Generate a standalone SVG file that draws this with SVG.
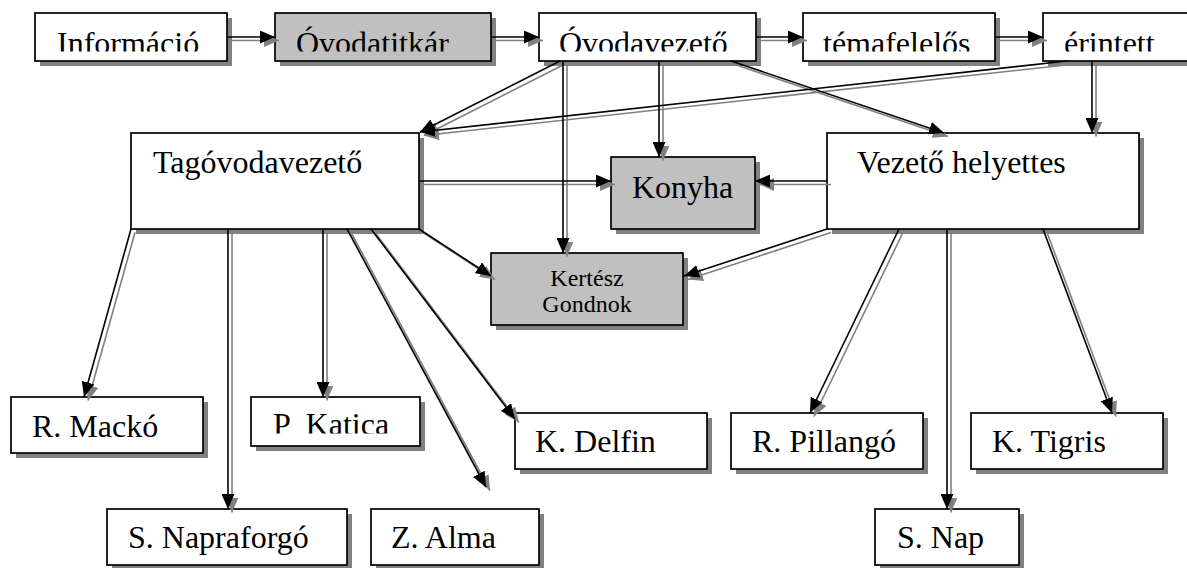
<svg xmlns="http://www.w3.org/2000/svg" xmlns:xlink="http://www.w3.org/1999/xlink" width="1187" height="568" viewBox="0 0 1187 568">
<style>
.box{fill:#ffffff;stroke:#000000;stroke-width:1.7}
.gbox{fill:#c0c0c0;stroke:#000000;stroke-width:1.7}
.shadow{fill:#808080;stroke:none}
.t{font-family:"Liberation Serif","Times New Roman",serif;font-size:32px;fill:#000000}
.ts{font-family:"Liberation Serif","Times New Roman",serif;font-size:24px;fill:#000000}
.cs{fill:none;stroke:#808080;stroke-width:1.6;marker-end:url(#ag)}
.cm{fill:none;stroke:#000000;stroke-width:1.6;marker-end:url(#ab)}
</style>
<defs>
<marker id="ab" markerUnits="userSpaceOnUse" viewBox="0 0 15 13" refX="15" refY="6.5" markerWidth="15" markerHeight="13" orient="auto">
<path d="M0,0 L15,6.5 L0,13 Z" fill="#000000"/>
</marker>
<marker id="ag" markerUnits="userSpaceOnUse" viewBox="0 0 15 13" refX="15" refY="6.5" markerWidth="15" markerHeight="13" orient="auto">
<path d="M0,0 L15,6.5 L0,13 Z" fill="#808080"/>
</marker>
<clipPath id="clipTop" clipPathUnits="userSpaceOnUse"><rect x="0" y="0" width="1187" height="51.5"/></clipPath>
<clipPath id="clipKat" clipPathUnits="userSpaceOnUse"><rect x="0" y="380" width="1187" height="53.5"/></clipPath>
<path id="c1" d="M227,37 L275,37"/>
<path id="c2" d="M491,37 L539,37"/>
<path id="c3" d="M756,37 L803,37"/>
<path id="c4" d="M995,37 L1043,37"/>
<path id="c5" d="M560,61 L420,132"/>
<path id="c6" d="M1067,61 L420,132"/>
<path id="c7" d="M659,61 L659,157"/>
<path id="c8" d="M563,61 L563,253"/>
<path id="c9" d="M731,61 L944,133"/>
<path id="c10" d="M1092,61 L1092,133"/>
<path id="c11" d="M419,181 L611,181"/>
<path id="c12" d="M827,181 L755,181"/>
<path id="c13" d="M419,229 L491,276"/>
<path id="c14" d="M827,229 L684,276"/>
<path id="c15" d="M131,229 L84,397"/>
<path id="c16" d="M228,229 L228,509"/>
<path id="c17" d="M323,229 L323,397"/>
<path id="c18" d="M347,229 L486,487"/>
<path id="c19" d="M371,229 L515,419"/>
<path id="c20" d="M899,229 L810,413"/>
<path id="c21" d="M947,229 L947,509"/>
<path id="c22" d="M1043,229 L1112,413"/>
</defs>
<rect x="0" y="0" width="1187" height="568" fill="#ffffff"/>

<g id="informacio">
<rect class="shadow" fill="#808080" x="40" y="18" width="192" height="48"/>
<rect class="box" x="35" y="13" width="192" height="48"/>
<text class="t" x="57" y="53.5" clip-path="url(#clipTop)">Információ</text>
</g>
<g id="ovodatitkar">
<rect class="shadow" fill="#808080" x="280" y="18" width="216" height="48"/>
<rect class="gbox" x="275" y="13" width="216" height="48"/>
<text class="t" x="296" y="53.5" clip-path="url(#clipTop)">Óvodatitkár</text>
</g>
<g id="ovodavezeto">
<rect class="shadow" fill="#808080" x="544" y="18" width="217" height="48"/>
<rect class="box" x="539" y="13" width="217" height="48"/>
<text class="t" x="559" y="53.5" clip-path="url(#clipTop)">Óvodavezető</text>
</g>
<g id="temafelelos">
<rect class="shadow" fill="#808080" x="808" y="18" width="192" height="48"/>
<rect class="box" x="803" y="13" width="192" height="48"/>
<text class="t" x="823" y="53.5" clip-path="url(#clipTop)">témafelelős</text>
</g>
<g id="erintett">
<rect class="shadow" fill="#808080" x="1048" y="18" width="160" height="48"/>
<rect class="box" x="1043" y="13" width="160" height="48"/>
<text class="t" x="1064" y="53.5" clip-path="url(#clipTop)">érintett</text>
</g>
<g id="tagovodavezeto">
<rect class="shadow" fill="#808080" x="136" y="138" width="288" height="96"/>
<rect class="box" x="131" y="133" width="288" height="96"/>
<text class="t" x="153" y="173">Tagóvodavezető</text>
</g>
<g id="konyha">
<rect class="shadow" fill="#808080" x="616" y="162" width="144" height="72"/>
<rect class="gbox" x="611" y="157" width="144" height="72"/>
<text class="t" x="632" y="198">Konyha</text>
</g>
<g id="vezeto-helyettes">
<rect class="shadow" fill="#808080" x="832" y="138" width="312" height="96"/>
<rect class="box" x="827" y="133" width="312" height="96"/>
<text class="t" x="857" y="173">Vezető helyettes</text>
</g>
<g id="kertesz-gondnok">
<rect class="shadow" fill="#808080" x="496" y="258" width="192" height="72"/>
<rect class="gbox" x="491" y="253" width="192" height="72"/>
<text class="ts" x="587" y="286" text-anchor="middle">Kertész</text>
<text class="ts" x="587" y="312" text-anchor="middle">Gondnok</text>
</g>
<g id="r-macko">
<rect class="shadow" fill="#808080" x="16" y="402" width="192" height="56"/>
<rect class="box" x="11" y="397" width="192" height="56"/>
<text class="t" x="32" y="437">R. Mackó</text>
</g>
<g id="p-katica">
<rect class="shadow" fill="#808080" x="256" y="402" width="169" height="49"/>
<rect class="box" x="251" y="397" width="169" height="49"/>
<text class="t" x="273" y="435" word-spacing="8" clip-path="url(#clipKat)">P Katica</text>
</g>
<g id="s-napraforgo">
<rect class="shadow" fill="#808080" x="112" y="514" width="240" height="56"/>
<rect class="box" x="107" y="509" width="240" height="56"/>
<text class="t" x="128" y="548">S. Napraforgó</text>
</g>
<g id="z-alma">
<rect class="shadow" fill="#808080" x="376" y="514" width="168" height="56"/>
<rect class="box" x="371" y="509" width="168" height="56"/>
<text class="t" x="391" y="548">Z. Alma</text>
</g>
<g id="k-delfin">
<rect class="shadow" fill="#808080" x="520" y="418" width="192" height="56"/>
<rect class="box" x="515" y="413" width="192" height="56"/>
<text class="t" x="535" y="452">K. Delfin</text>
</g>
<g id="r-pillango">
<rect class="shadow" fill="#808080" x="736" y="418" width="192" height="56"/>
<rect class="box" x="731" y="413" width="192" height="56"/>
<text class="t" x="752" y="452">R. Pillangó</text>
</g>
<g id="k-tigris">
<rect class="shadow" fill="#808080" x="976" y="418" width="192" height="56"/>
<rect class="box" x="971" y="413" width="192" height="56"/>
<text class="t" x="992" y="452">K. Tigris</text>
</g>
<g id="s-nap">
<rect class="shadow" fill="#808080" x="880" y="514" width="144" height="56"/>
<rect class="box" x="875" y="509" width="144" height="56"/>
<text class="t" x="897" y="548">S. Nap</text>
</g>

<g id="connectors">
<g class="cs" transform="translate(4,3.5)">
<use xlink:href="#c1"/><use xlink:href="#c2"/><use xlink:href="#c3"/><use xlink:href="#c4"/>
<use xlink:href="#c5"/><use xlink:href="#c6"/><use xlink:href="#c7"/><use xlink:href="#c8"/>
<use xlink:href="#c9"/><use xlink:href="#c10"/><use xlink:href="#c11"/><use xlink:href="#c12"/>
<use xlink:href="#c13"/><use xlink:href="#c14"/><use xlink:href="#c15"/><use xlink:href="#c16"/>
<use xlink:href="#c17"/><use xlink:href="#c18"/><use xlink:href="#c19"/><use xlink:href="#c20"/>
<use xlink:href="#c21"/><use xlink:href="#c22"/>
</g>
<g class="cm">
<use xlink:href="#c1"/><use xlink:href="#c2"/><use xlink:href="#c3"/><use xlink:href="#c4"/>
<use xlink:href="#c5"/><use xlink:href="#c6"/><use xlink:href="#c7"/><use xlink:href="#c8"/>
<use xlink:href="#c9"/><use xlink:href="#c10"/><use xlink:href="#c11"/><use xlink:href="#c12"/>
<use xlink:href="#c13"/><use xlink:href="#c14"/><use xlink:href="#c15"/><use xlink:href="#c16"/>
<use xlink:href="#c17"/><use xlink:href="#c18"/><use xlink:href="#c19"/><use xlink:href="#c20"/>
<use xlink:href="#c21"/><use xlink:href="#c22"/>
</g>
</g>
</svg>
